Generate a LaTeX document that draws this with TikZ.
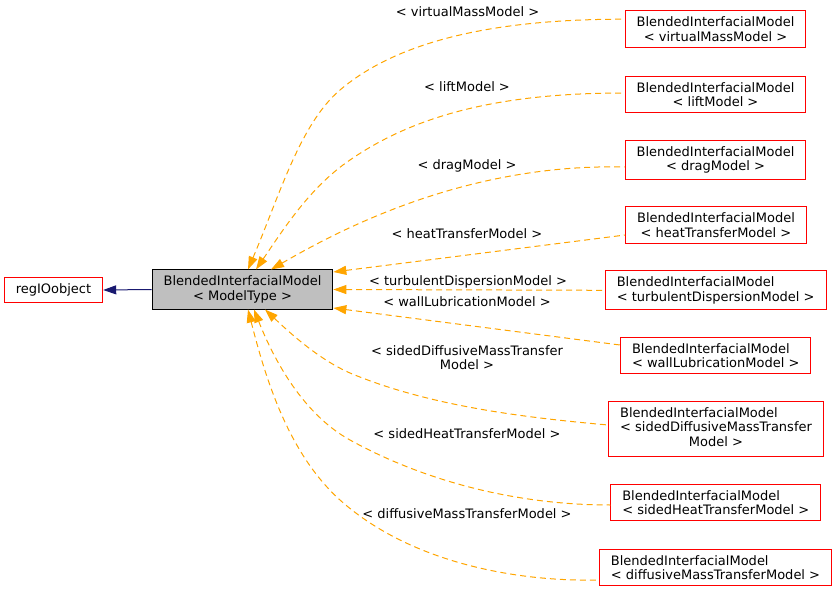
\documentclass[tikz,border=0pt]{standalone}
\usepackage{fontspec}
\setmainfont{DejaVu Sans}
\usetikzlibrary{arrows.meta}
\definecolor{edgeorange}{HTML}{FFA500}
\definecolor{navyblue}{HTML}{191970}
\definecolor{nodegray}{HTML}{BFBFBF}
\begin{document}
\begin{tikzpicture}[x=1pt,y=-1pt,
  txt/.style={font=\fontsize{13}{14.5}\selectfont},
  cls/.style={txt, draw=red, line width=1pt, fill=white, inner xsep=11.5pt, inner ysep=6pt, align=center},
  clsl/.style={cls, align=left},
  mainbox/.style={txt, draw=black, line width=1pt, fill=nodegray, inner xsep=11.5pt, inner ysep=6pt, align=center},
  lbl/.style={txt, inner sep=0pt, align=center},
  dep/.style={draw=edgeorange, line width=1pt, dash pattern=on 6pt off 4pt, {Triangle[length=13pt,width=9pt,fill=edgeorange,sep=0pt]}-},
  inh/.style={draw=navyblue, line width=1pt, -{Triangle[length=13pt,width=9pt,fill=navyblue]}}
]
\useasboundingbox (0,0) rectangle (839,594);

\node[mainbox] (main) at (242.5,289.5) {BlendedInterfacialModel\\< ModelType >};
\node[cls] (reg) at (53.5,290) {regIOobject};

\node[cls] (vm) at (715.5,29.2) {BlendedInterfacialModel\\< virtualMassModel >};
\node[cls] (lift) at (715.5,94.5) {BlendedInterfacialModel\\< liftModel >};
\node[cls] (drag) at (715.5,160) {BlendedInterfacialModel\\< dragModel >};
\node[cls] (heat) at (716,225) {BlendedInterfacialModel\\< heatTransferModel >};
\node[clsl] (turb) at (715.7,290.3) {BlendedInterfacialModel\\< turbulentDispersionModel >};
\node[clsl] (wall) at (715.7,355.7) {BlendedInterfacialModel\\< wallLubricationModel >};
\node[cls] (sdmt) at (716,429) {\begin{tabular}{@{}l@{}}BlendedInterfacialModel\\< sidedDiffusiveMassTransfer\\\multicolumn{1}{@{}c@{}}{Model >}\end{tabular}};
\node[clsl] (sht) at (715.8,502.5) {BlendedInterfacialModel\\< sidedHeatTransferModel >};
\node[clsl] (dmt) at (715.5,567.5) {BlendedInterfacialModel\\< diffusiveMassTransferModel >};

\draw[inh] (main.west) -- (reg.east);

\draw[dep] ([xshift=5.5pt]main.north) .. controls (279.5,195.5) and (300,124) .. (340,90)
  .. controls (400,39) and (500,19) .. ([yshift=10pt]vm.west);
\draw[dep] ([xshift=13.5pt]main.north) .. controls (283,230) and (310,187) .. (350,160)
  .. controls (425,108) and (520,93) .. ([yshift=1.5pt]lift.west);
\draw[dep] ([xshift=28.5pt]main.north) .. controls (331,235) and (460,163) .. ([yshift=-7pt]drag.west);
\draw[dep] ([yshift=17.5pt]main.east) -- ([yshift=-10pt]heat.west);
\draw[dep] (main.east) -- (turb.west);
\draw[dep] ([yshift=-18.5pt]main.east) -- ([yshift=10.7pt]wall.west);
\draw[dep] ([xshift=22.5pt]main.south) .. controls (289,332) and (318,359) .. (350,373)
  .. controls (431,407) and (530,418) .. ([yshift=4pt]sdmt.west);
\draw[dep] ([xshift=11.5pt]main.south) .. controls (274,360) and (303,414) .. (350,440)
  .. controls (428,483) and (520,505) .. ([yshift=-2.5pt]sht.west);
\draw[dep] ([xshift=5.5pt]main.south) .. controls (265.5,378) and (288,453) .. (340,500)
  .. controls (407,560) and (510,582) .. ([yshift=-12.5pt]dmt.west);

\node[lbl] (l1) at (467.5,11.5) {< virtualMassModel >};
\node[lbl] (l2) at (467,87) {< liftModel >};
\node[lbl] (l3) at (467,165.5) {< dragModel >};
\node[lbl] (l4) at (467,234) {< heatTransferModel >};
\node[lbl] (l5) at (468,281.5) {< turbulentDispersionModel >};
\node[lbl] (l6) at (467,302) {< wallLubricationModel >};
\node[lbl] (l7) at (467,357.5) {< sidedDiffusiveMassTransfer\\Model >};
\node[lbl] (l8) at (467,434) {< sidedHeatTransferModel >};
\node[lbl] (l9) at (467,514) {< diffusiveMassTransferModel >};
\end{tikzpicture}
\end{document}
